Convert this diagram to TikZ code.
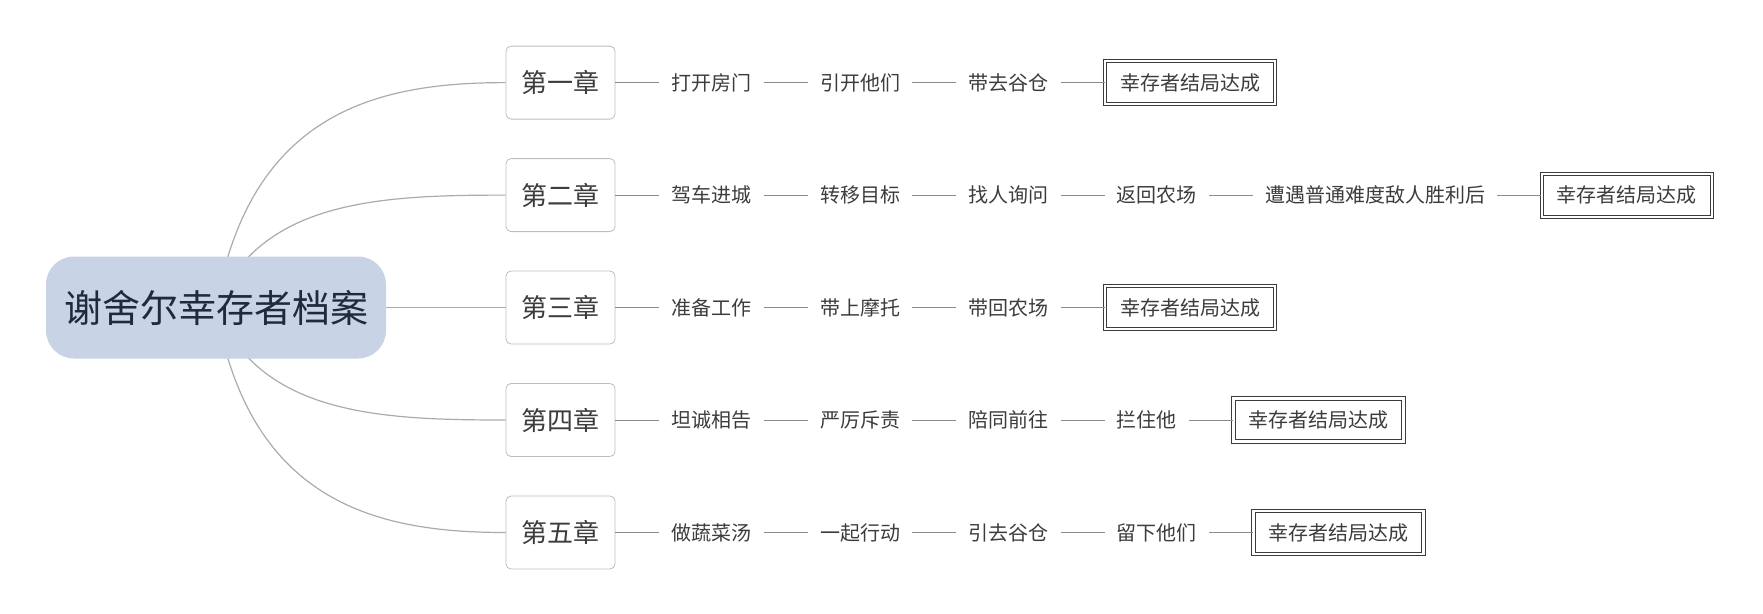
\documentclass[tikz,border=0pt]{standalone}
\usepackage{fontspec}
\setmainfont{Noto Sans CJK SC}
\usetikzlibrary{positioning, backgrounds}
\definecolor{RootFill}{HTML}{C8D3E5}
\definecolor{RootText}{HTML}{1F2B3D}
\definecolor{BranchGray}{HTML}{ABABAB}
\definecolor{BoxGray}{HTML}{BDBDBD}
\definecolor{StepGray}{HTML}{8C8C8C}
\definecolor{LeafText}{HTML}{3C3C3C}

\begin{document}
\begin{tikzpicture}[x=1pt, y=-1pt, node distance=44pt,
  rootbox/.style={fill=RootFill, rounded corners=28pt, minimum width=340pt, minimum height=102pt, text=RootText, font=\fontsize{38}{40}\selectfont},
  chapbox/.style={draw=BoxGray, line width=0.8pt, rounded corners=5pt, minimum width=109pt, minimum height=73pt, text=LeafText, font=\fontsize{26}{28}\selectfont},
  stepnode/.style={inner xsep=12pt, text=LeafText, font=\fontsize{20}{22}\selectfont},
  endbox/.style={draw=LeafText, double, double distance=2.2pt, line width=1pt, inner xsep=15pt, minimum height=43pt, text=LeafText, font=\fontsize{20}{22}\selectfont},
  branch/.style={draw=BranchGray, line width=1.2pt},
  stepline/.style={draw=StepGray, line width=1pt}]
\useasboundingbox (0,0) rectangle (1763,613);
% Root
\node[rootbox] (root) at (216,307.5) {谢舍尔幸存者档案};
% Chapters
\node[chapbox] (c1) at (560.5,82.6) {第一章};
\node[chapbox] (c2) at (560.5,195.1) {第二章};
\node[chapbox] (c3) at (560.5,307.5) {第三章};
\node[chapbox] (c4) at (560.5,420) {第四章};
\node[chapbox] (c5) at (560.5,532.5) {第五章};
% Chapter 1
\node[stepnode, right=of c1] (c1a) {打开房门};
\node[stepnode, right=of c1a] (c1b) {引开他们};
\node[stepnode, right=of c1b] (c1c) {带去谷仓};
\node[endbox, right=of c1c] (c1end) {幸存者结局达成};
% Chapter 2
\node[stepnode, right=of c2] (c2a) {驾车进城};
\node[stepnode, right=of c2a] (c2b) {转移目标};
\node[stepnode, right=of c2b] (c2c) {找人询问};
\node[stepnode, right=of c2c] (c2d) {返回农场};
\node[stepnode, right=of c2d] (c2e) {遭遇普通难度敌人胜利后};
\node[endbox, right=of c2e] (c2end) {幸存者结局达成};
% Chapter 3
\node[stepnode, right=of c3] (c3a) {准备工作};
\node[stepnode, right=of c3a] (c3b) {带上摩托};
\node[stepnode, right=of c3b] (c3c) {带回农场};
\node[endbox, right=of c3c] (c3end) {幸存者结局达成};
% Chapter 4
\node[stepnode, right=of c4] (c4a) {坦诚相告};
\node[stepnode, right=of c4a] (c4b) {严厉斥责};
\node[stepnode, right=of c4b] (c4c) {陪同前往};
\node[stepnode, right=of c4c] (c4d) {拦住他};
\node[endbox, right=of c4d] (c4end) {幸存者结局达成};
% Chapter 5
\node[stepnode, right=of c5] (c5a) {做蔬菜汤};
\node[stepnode, right=of c5a] (c5b) {一起行动};
\node[stepnode, right=of c5b] (c5c) {引去谷仓};
\node[stepnode, right=of c5c] (c5d) {留下他们};
\node[endbox, right=of c5d] (c5end) {幸存者结局达成};
% Branches
\begin{scope}[on background layer]
\draw[branch] (root.center) .. controls (250,110) and (380,82.6) .. (c1.west);
\draw[branch] (root.center) .. controls (260,200) and (380,195.1) .. (c2.west);
\draw[branch] (root.center) -- (c3.west);
\draw[branch] (root.center) .. controls (260,415) and (380,420) .. (c4.west);
\draw[branch] (root.center) .. controls (250,505) and (380,532.5) .. (c5.west);
\end{scope}
% Steps
\draw[stepline] (c1) -- (c1a) -- (c1b) -- (c1c) -- (c1end);
\draw[stepline] (c2) -- (c2a) -- (c2b) -- (c2c) -- (c2d) -- (c2e) -- (c2end);
\draw[stepline] (c3) -- (c3a) -- (c3b) -- (c3c) -- (c3end);
\draw[stepline] (c4) -- (c4a) -- (c4b) -- (c4c) -- (c4d) -- (c4end);
\draw[stepline] (c5) -- (c5a) -- (c5b) -- (c5c) -- (c5d) -- (c5end);
\end{tikzpicture}
\end{document}
